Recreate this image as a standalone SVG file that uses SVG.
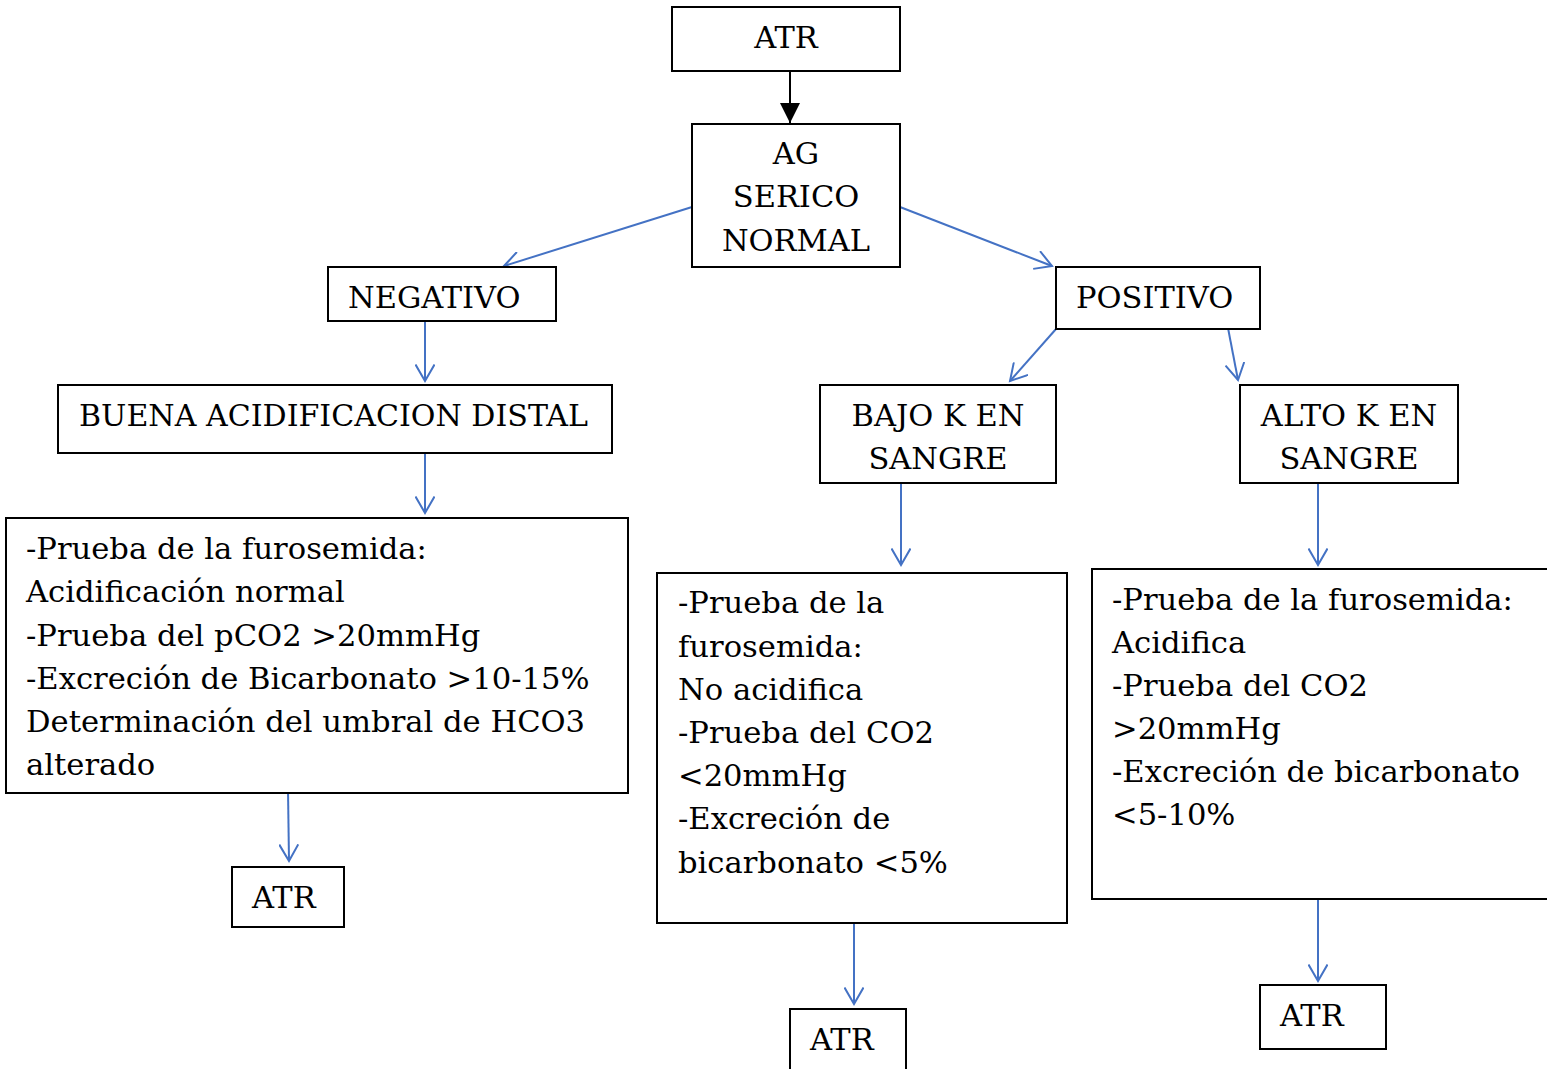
<svg xmlns="http://www.w3.org/2000/svg" width="1547" height="1069" viewBox="0 0 1547 1069">
  <style>
    .box { fill: #ffffff; stroke: #000000; stroke-width: 2; }
    .t { font-family: "DejaVu Serif", "Liberation Serif", serif; font-size: 30.5px; fill: #000000; }
    .b { font-family: "DejaVu Serif", "Liberation Serif", serif; font-size: 30.6px; fill: #000000; }
    .tc { text-anchor: middle; }
    .link { fill: none; stroke: #4472C4; stroke-width: 2; marker-end: url(#open); }
    .main { fill: none; stroke: #000000; stroke-width: 2; marker-end: url(#solid); }
  </style>
  <defs>
    <marker id="open" markerUnits="userSpaceOnUse" markerWidth="20" markerHeight="20" refX="17" refY="10" orient="auto" viewBox="0 0 20 20">
      <path d="M0.5,0.5 L17,10 L0.5,19.5" fill="none" stroke="#4472C4" stroke-width="2"/>
    </marker>
    <marker id="solid" markerUnits="userSpaceOnUse" markerWidth="20" markerHeight="20" refX="14" refY="7" orient="auto" viewBox="0 0 14 14">
      <path d="M0,0 L14,7 L0,14 Z" fill="#000000"/>
    </marker>
  </defs>
  <rect width="1547" height="1069" fill="#ffffff"/>

  <!-- connectors -->
  <g id="connectors">
    <line class="main" x1="790" y1="71" x2="790" y2="123"/>
    <line class="link" x1="692" y1="207" x2="504" y2="266"/>
    <line class="link" x1="900" y1="207" x2="1052" y2="266"/>
    <line class="link" x1="425" y1="321" x2="425" y2="381"/>
    <line class="link" x1="425" y1="453" x2="425" y2="513"/>
    <line class="link" x1="288" y1="790" x2="289" y2="861"/>
    <line class="link" x1="1056" y1="329" x2="1010" y2="381"/>
    <line class="link" x1="1228" y1="328" x2="1238" y2="380"/>
    <line class="link" x1="901" y1="483" x2="901" y2="565"/>
    <line class="link" x1="1318" y1="483" x2="1318" y2="565"/>
    <line class="link" x1="854" y1="923" x2="854" y2="1004"/>
    <line class="link" x1="1318" y1="899" x2="1318" y2="981"/>
  </g>

  <g id="atr-top">
    <rect class="box" x="672" y="7" width="228" height="64"/>
    <text class="t tc" x="786" y="48">ATR</text>
  </g>

  <g id="ag-serico">
    <rect class="box" x="692" y="124" width="208" height="143"/>
    <text class="t tc" x="796" y="164">AG</text>
    <text class="t tc" x="796" y="207">SERICO</text>
    <text class="t tc" x="796" y="251">NORMAL</text>
  </g>

  <g id="negativo">
    <rect class="box" x="328" y="267" width="228" height="54"/>
    <text class="t" x="348" y="308">NEGATIVO</text>
  </g>

  <g id="positivo">
    <rect class="box" x="1056" y="267" width="204" height="62"/>
    <text class="t" x="1076" y="308">POSITIVO</text>
  </g>

  <g id="buena-acidificacion">
    <rect class="box" x="58" y="385" width="554" height="68"/>
    <text class="t" x="79" y="426" textLength="509" lengthAdjust="spacingAndGlyphs">BUENA ACIDIFICACION DISTAL</text>
  </g>

  <g id="pruebas-negativo">
    <rect class="box" x="6" y="518" width="622" height="275"/>
    <text class="b" x="26" y="559">-Prueba de la furosemida:</text>
    <text class="b" x="26" y="602">Acidificación normal</text>
    <text class="b" x="26" y="646">-Prueba del pCO2 &gt;20mmHg</text>
    <text class="b" x="26" y="689">-Excreción de Bicarbonato &gt;10-15%</text>
    <text class="b" x="26" y="732">Determinación del umbral de HCO3</text>
    <text class="b" x="26" y="775">alterado</text>
  </g>

  <g id="atr-negativo">
    <rect class="box" x="232" y="867" width="112" height="60"/>
    <text class="t" x="252" y="908">ATR</text>
  </g>

  <g id="bajo-k">
    <rect class="box" x="820" y="385" width="236" height="98"/>
    <text class="t tc" x="938" y="426">BAJO K EN</text>
    <text class="t tc" x="938" y="469">SANGRE</text>
  </g>

  <g id="alto-k">
    <rect class="box" x="1240" y="385" width="218" height="98"/>
    <text class="t tc" x="1349" y="426">ALTO K EN</text>
    <text class="t tc" x="1349" y="469">SANGRE</text>
  </g>

  <g id="pruebas-bajo-k">
    <rect class="box" x="657" y="573" width="410" height="350"/>
    <text class="b" x="678" y="613">-Prueba de la</text>
    <text class="b" x="678" y="657">furosemida:</text>
    <text class="b" x="678" y="700">No acidifica</text>
    <text class="b" x="678" y="743">-Prueba del CO2</text>
    <text class="b" x="678" y="786">&lt;20mmHg</text>
    <text class="b" x="678" y="829">-Excreción de</text>
    <text class="b" x="678" y="873">bicarbonato &lt;5%</text>
  </g>

  <g id="pruebas-alto-k">
    <rect class="box" x="1092" y="569" width="460" height="330"/>
    <text class="b" x="1112" y="610">-Prueba de la furosemida:</text>
    <text class="b" x="1112" y="653">Acidifica</text>
    <text class="b" x="1112" y="696">-Prueba del CO2</text>
    <text class="b" x="1112" y="739">&gt;20mmHg</text>
    <text class="b" x="1112" y="782">-Excreción de bicarbonato</text>
    <text class="b" x="1112" y="825">&lt;5-10%</text>
  </g>

  <g id="atr-bajo-k">
    <rect class="box" x="790" y="1009" width="116" height="70"/>
    <text class="t" x="810" y="1050">ATR</text>
  </g>

  <g id="atr-alto-k">
    <rect class="box" x="1260" y="985" width="126" height="64"/>
    <text class="t" x="1280" y="1026">ATR</text>
  </g>
</svg>
